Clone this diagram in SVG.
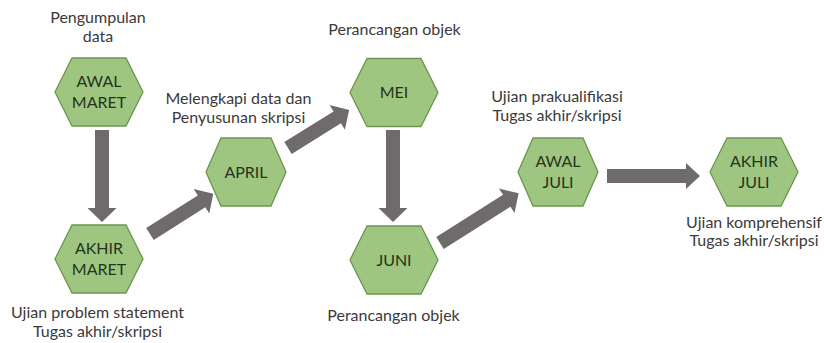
<svg xmlns="http://www.w3.org/2000/svg" width="824" height="343" viewBox="0 0 824 343">
<style>
.hex{fill:#9ec680;stroke:#6c9650;stroke-width:1.3}
.nt{font-family:Lato,"Liberation Sans",sans-serif;font-size:16px;fill:#26331d;text-anchor:middle}
.lb{font-family:Lato,"Liberation Sans",sans-serif;font-size:16px;fill:#3a3a3a;text-anchor:middle}
.ar{fill:#6f6b6c}
</style>
<rect width="824" height="343" fill="#ffffff"/>
<g id="connectors">
<polygon class="ar" transform="translate(102,130) rotate(90)" points="0,-7 78,-7 78,-14.5 92,0 78,14.5 78,7 0,7"/>
<polygon class="ar" transform="translate(150,234) rotate(-32.4)" points="0,-7 61,-7 61,-14.5 75,0 61,14.5 61,7 0,7"/>
<polygon class="ar" transform="translate(288,148) rotate(-31.9)" points="0,-7 58,-7 58,-14.5 72,0 58,14.5 58,7 0,7"/>
<polygon class="ar" transform="translate(393,130) rotate(90)" points="0,-7 78,-7 78,-14.5 92,0 78,14.5 78,7 0,7"/>
<polygon class="ar" transform="translate(440,243) rotate(-32.3)" points="0,-7 79,-7 79,-14.5 93,0 79,14.5 79,7 0,7"/>
<polygon class="ar" transform="translate(607,176)" points="0,-7 79,-7 79,-13 93,0 79,13 79,7 0,7"/>
</g>
<g id="awal-maret">
<polygon class="hex" points="55,92 72,58 126,58 143,92 126,126 72,126"/>
<text class="nt" x="99" y="87">AWAL</text>
<text class="nt" x="99" y="108">MARET</text>
</g>
<g id="akhir-maret">
<polygon class="hex" points="55,259 72,225 126,225 143,259 126,293 72,293"/>
<text class="nt" x="99" y="254">AKHIR</text>
<text class="nt" x="99" y="275">MARET</text>
</g>
<g id="april">
<polygon class="hex" points="206,172 221,138 271,138 286,172 271,206 221,206"/>
<text class="nt" x="246" y="177.5">APRIL</text>
</g>
<g id="mei">
<polygon class="hex" points="350,92.5 367,58.5 421,58.5 438,92.5 421,126.5 367,126.5"/>
<text class="nt" x="394" y="98">MEI</text>
</g>
<g id="juni">
<polygon class="hex" points="350,260 367,226 421,226 438,260 421,294 367,294"/>
<text class="nt" x="394" y="265.5">JUNI</text>
</g>
<g id="awal-juli">
<polygon class="hex" points="518,172 533,138 583,138 598,172 583,206 533,206"/>
<text class="nt" x="558" y="167">AWAL</text>
<text class="nt" x="558" y="188">JULI</text>
</g>
<g id="akhir-juli">
<polygon class="hex" points="710,172 727,138 781,138 798,172 781,206 727,206"/>
<text class="nt" x="754" y="167">AKHIR</text>
<text class="nt" x="754" y="188">JULI</text>
</g>
<g id="labels">
<text class="lb" x="98" y="23">Pengumpulan</text>
<text class="lb" x="98" y="42">data</text>
<text class="lb" x="238.5" y="104">Melengkapi data dan</text>
<text class="lb" x="238.5" y="123">Penyusunan skripsi</text>
<text class="lb" x="394.5" y="35">Perancangan objek</text>
<text class="lb" x="557" y="102">Ujian prakualifikasi</text>
<text class="lb" x="557" y="121">Tugas akhir/skripsi</text>
<text class="lb" x="393.5" y="320.5">Perancangan objek</text>
<text class="lb" x="97.5" y="318">Ujian problem statement</text>
<text class="lb" x="97.5" y="336.5">Tugas akhir/skripsi</text>
<text class="lb" x="754" y="227.5">Ujian komprehensif</text>
<text class="lb" x="754" y="246">Tugas akhir/skripsi</text>
</g>
</svg>
